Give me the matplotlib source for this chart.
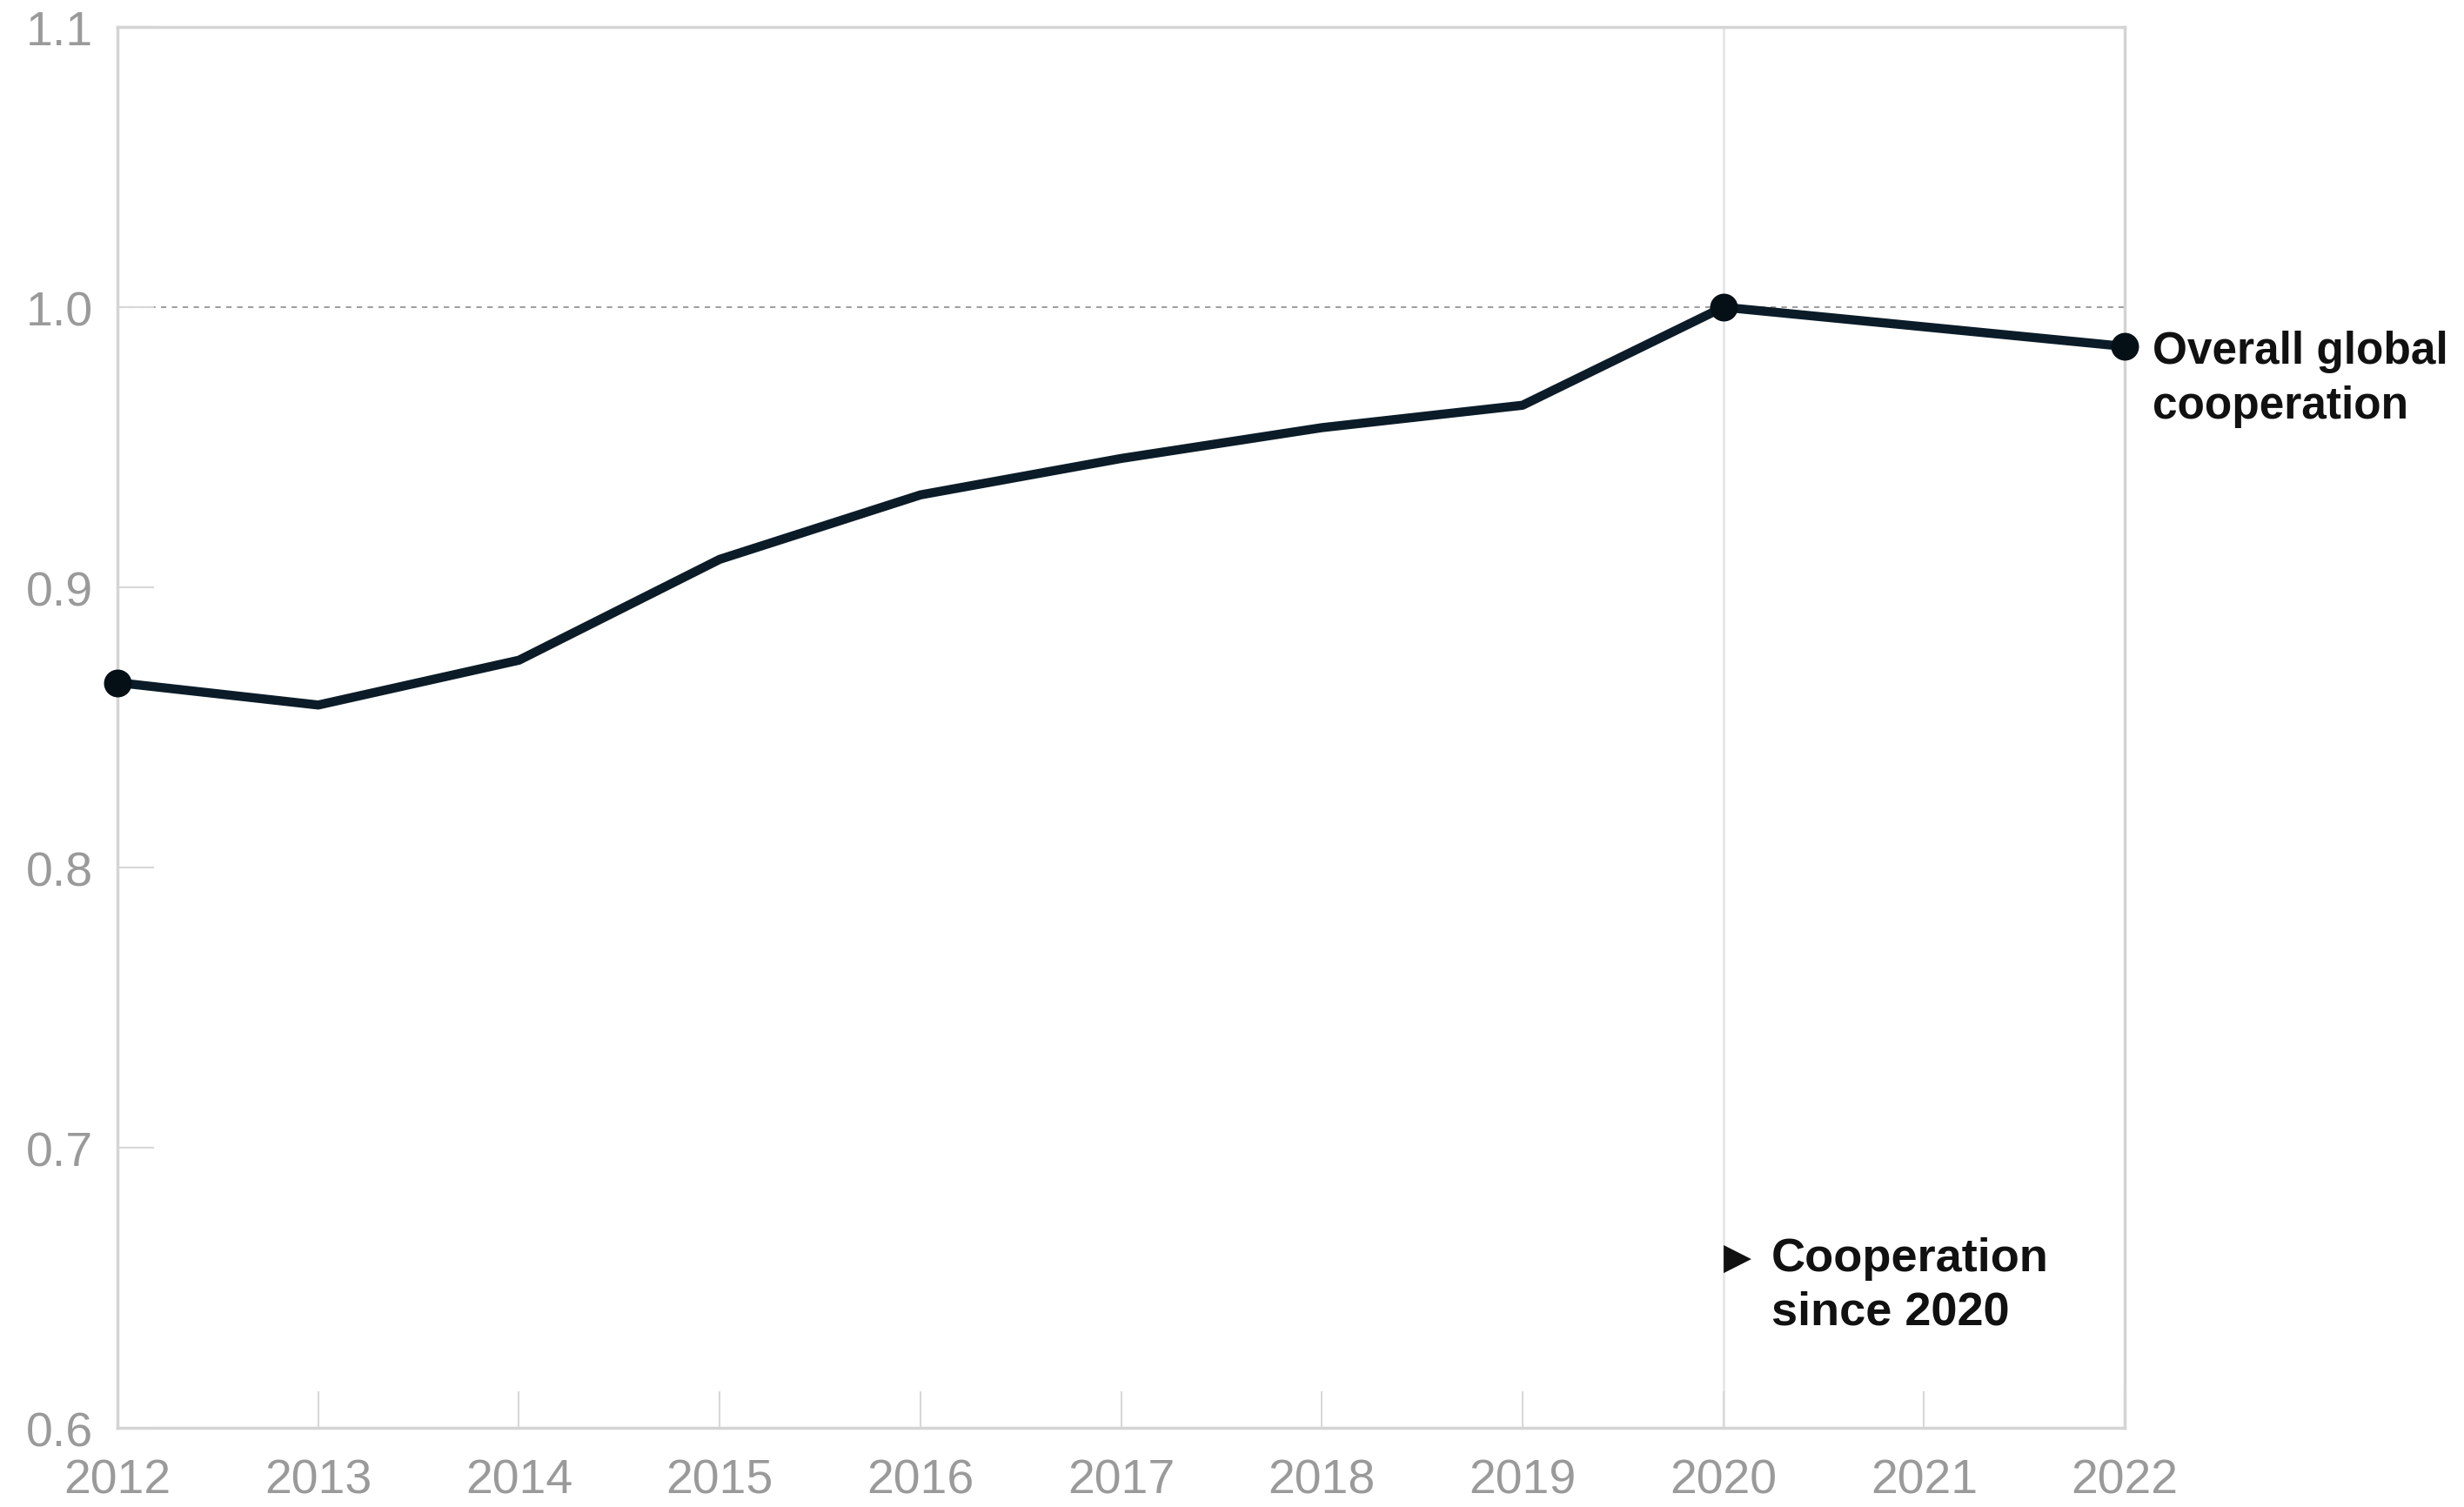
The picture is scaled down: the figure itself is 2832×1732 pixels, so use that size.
import numpy as np
import matplotlib.pyplot as plt

years = [2012, 2013, 2014, 2015, 2016, 2017, 2018, 2019, 2020, 2021, 2022]
cooperation = [0.866, 0.858, 0.874, 0.910, 0.933, 0.946, 0.957, 0.965, 1.000, 0.993, 0.986]
marked_years = [2012, 2020, 2022]
y_ticks = [0.6, 0.7, 0.8, 0.9, 1.0, 1.1]

navy = '#0b1c28'
gray_txt = '#9a9a9a'
spine_col = '#d4d4d4'

plt.rcParams['font.family'] = ['Liberation Sans', 'DejaVu Sans']

fig = plt.figure(figsize=(28.32, 17.33), dpi=100)
ax = fig.add_axes([0.0477, 0.0525, 0.8146, 0.929])

ax.axvline(2020, color='#e6e6e6', lw=2, zorder=1)
ax.plot([years[0], years[-1]], [1.0, 1.0], color='#a0a0a0', lw=1.5,
        ls=(0, (3, 3)), zorder=1)

ax.plot(years, cooperation, color=navy, lw=7.5, solid_joinstyle='round',
        solid_capstyle='round', zorder=3)
mk = [cooperation[years.index(y)] for y in marked_years]
ax.plot(marked_years, mk, 'o', color='#050f16', ms=22, zorder=4, clip_on=False)

ax.set_xlim(2012, 2022)
ax.set_ylim(0.6, 1.1)
ax.set_xticks(years)
ax.set_yticks(y_ticks)
ax.set_yticklabels(['%.1f' % v for v in y_ticks])

for s in ax.spines.values():
    s.set_color(spine_col)
    s.set_linewidth(2.5)

ax.tick_params(axis='both', direction='in', color='#d8d8d8', width=1.5,
               labelsize=40, labelcolor=gray_txt)
ax.tick_params(axis='x', length=30, pad=25)
ax.tick_params(axis='y', length=30, pad=20)

# end label
ax.text(2022.14, cooperation[-1] + 0.006, 'Overall global\ncooperation',
        fontsize=37, fontweight='bold', color='#111111', va='top', ha='left',
        linespacing=1.38, clip_on=False)

# 2020 annotation
ax.text(2020.0, 0.6605, '\u25B6', fontsize=30, color='#111111', va='center',
        ha='left', family=['DejaVu Sans'])
ax.text(2020.24, 0.6683, 'Cooperation\nsince 2020', fontsize=39,
        fontweight='bold', color='#111111', va='top', ha='left',
        linespacing=1.3)

fig.savefig('out.png', dpi=100, facecolor='white')
